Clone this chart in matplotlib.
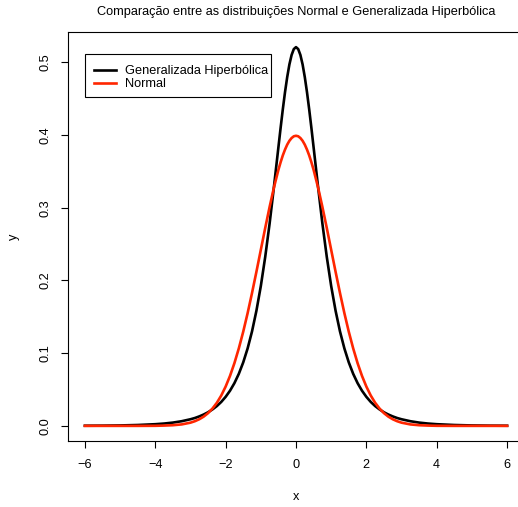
import matplotlib
matplotlib.use("Agg")
import matplotlib.pyplot as plt
from matplotlib.patches import Rectangle

# valores (curvas simétricas em torno de 0)
x_pos = [0.0, 0.0625, 0.125, 0.1875, 0.25, 0.3125, 0.375, 0.4375, 0.5, 0.625, 0.75,
         0.875, 1.0, 1.125, 1.25, 1.375, 1.5, 1.625, 1.75, 1.875, 2.0, 2.125, 2.25,
         2.375, 2.5, 2.625, 2.75, 2.875, 3.0, 3.25, 3.5, 3.75, 4.0, 4.5, 5.0, 5.5, 6.0]
gh_pos = [0.5208, 0.5181, 0.5100, 0.4970, 0.4796, 0.4588, 0.4352, 0.4097, 0.3831,
          0.3295, 0.2783, 0.2323, 0.1922, 0.1583, 0.1299, 0.1065, 0.0873, 0.0716,
          0.0588, 0.0484, 0.0399, 0.0329, 0.0272, 0.0226, 0.0187, 0.0156, 0.0130,
          0.0108, 0.0091, 0.0064, 0.0045, 0.0032, 0.0023, 0.0012, 0.0006, 0.0003,
          0.0002]
normal_pos = [0.3989, 0.3982, 0.3958, 0.3920, 0.3867, 0.3799, 0.3719, 0.3625, 0.3521,
              0.3282, 0.3011, 0.2721, 0.2420, 0.2119, 0.1827, 0.1550, 0.1295, 0.1066,
              0.0863, 0.0688, 0.0540, 0.0417, 0.0317, 0.0238, 0.0175, 0.0127, 0.0091,
              0.0064, 0.0044, 0.0020, 0.0009, 0.0004, 0.0001, 0.0, 0.0, 0.0, 0.0]

x = [-v for v in x_pos[:0:-1]] + x_pos
gh = gh_pos[:0:-1] + gh_pos
normal = normal_pos[:0:-1] + normal_pos

x_ticks = [-6, -4, -2, 0, 2, 4, 6]
y_ticks = [0.0, 0.1, 0.2, 0.3, 0.4, 0.5]

plt.rcParams['font.family'] = ['Liberation Sans', 'DejaVu Sans']
fs = 9.2

W, H = 518, 507
fig = plt.figure(figsize=(W / 100, H / 100), dpi=100)
ax = fig.add_axes([68 / W, (H - 441) / H, (524 - 68) / W, (441 - 32) / H])

ax.plot(x, gh, color='black', lw=1.9, label='Generalizada Hiperbólica')
ax.plot(x, normal, color='#ff2600', lw=1.9, label='Normal')

ax.set_xlim(-6.48, 6.48)
ax.set_ylim(-0.0208, 0.5416)
ax.set_xticks(x_ticks)
ax.set_xticklabels([str(t).replace('-', '\u2212') for t in x_ticks])
ax.set_yticks(y_ticks)
ax.set_yticklabels([f'{t:.1f}' for t in y_ticks], rotation=90, va='center')
ax.tick_params(direction='out', length=5, width=0.8, labelsize=fs, pad=7)
ax.tick_params(axis='x', pad=8)
for s in ax.spines.values():
    s.set_linewidth(0.8)

ax.set_xlabel('x', fontsize=fs, labelpad=14)
ax.set_ylabel('y', fontsize=fs, labelpad=14)
fig.text(0.5 * (96 + 496) / W, 1 - 12 / H,
         'Comparação entre as distribuições Normal e Generalizada Hiperbólica',
         ha='center', va='center', fontsize=fs)

# legenda sem moldura + caixa desenhada à parte (estilo R)
leg = ax.legend(loc='upper left', bbox_to_anchor=(94 / W, 1 - 65 / H),
                bbox_transform=fig.transFigure, borderaxespad=0, borderpad=0,
                fontsize=fs, handlelength=1.75, handletextpad=0.7,
                labelspacing=0.08, frameon=False)
fig.patches.append(Rectangle((85 / W, 1 - 97 / H), (271 - 85) / W, (97 - 54) / H,
                             transform=fig.transFigure, fill=False,
                             edgecolor='black', linewidth=0.8, zorder=5))

fig.savefig('out.png', dpi=100)
